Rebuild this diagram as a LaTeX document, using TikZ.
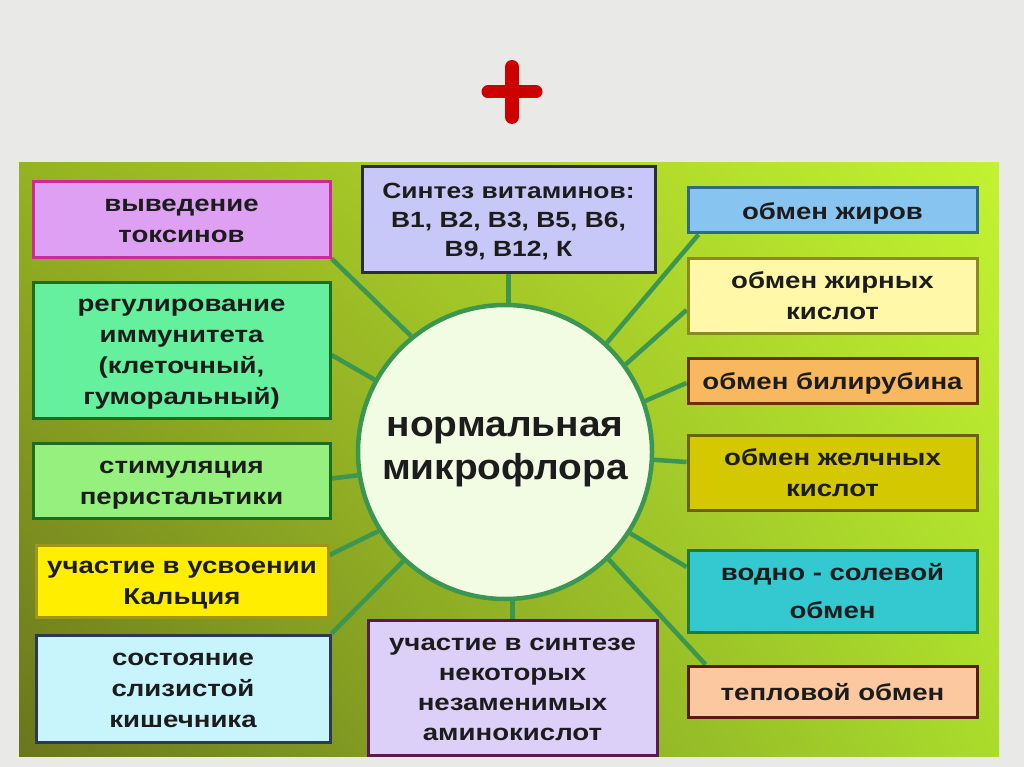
\documentclass[tikz,border=0pt]{standalone}
\usepackage{fontspec}
\setmainfont{Liberation Sans}
\newfontfamily\boxfont[FakeStretch=1.2]{Liberation Sans}
\newfontfamily\circfont[FakeStretch=1.08]{Liberation Sans}
\usetikzlibrary{calc,shadings}
\pgfdeclarelayer{bg}
\pgfsetlayers{bg,main}
\definecolor{pagebg}{RGB}{233,233,231}
\definecolor{pul}{RGB}{150,178,34}
\definecolor{pur}{RGB}{194,242,48}
\definecolor{pll}{RGB}{106,118,28}
\definecolor{plr}{RGB}{170,220,44}
\definecolor{linegreen}{RGB}{58,150,80}
\definecolor{circfill}{RGB}{242,252,226}
\definecolor{txt}{RGB}{28,28,28}
\definecolor{plusred}{RGB}{204,0,0}
\tikzset{
  box/.style={draw, line width=3pt, inner sep=2pt, align=center, text=txt,
    text height=24pt, text depth=6pt,
    font=\boxfont\fontsize{23}{31}\selectfont\bfseries},
  twolines/.style={text height=53pt},
  threelines/.style={text height=84pt},
  fourlines/.style={text height=115pt},
  conn/.style={draw=linegreen, line width=4.5pt},
}
\begin{document}
\begin{tikzpicture}[x=1pt,y=-1pt]
\useasboundingbox (0,0) rectangle (1024,767);
\begin{pgfonlayer}{bg}
\fill[pagebg] (0,0) rectangle (1024,767);
\shade[upper left=pul, upper right=pur, lower left=pll, lower right=plr] (19,163) rectangle (999,756);
\end{pgfonlayer}
% plus
\draw[plusred, line width=13pt, line cap=round] (488,92) -- (536,92);
\draw[plusred, line width=14pt, line cap=round] (512,67) -- (512,117);
% centre
\node[circle, draw=linegreen, fill=circfill, line width=4.5pt, minimum size=294pt, inner sep=0pt,
  align=center, text=txt, font=\circfont\fontsize{36}{43}\selectfont\bfseries] (c) at (505,452) {нормальная\\микрофлора};
% left column
\node[box, twolines, fill={rgb,255:red,222;green,160;blue,242}, draw={rgb,255:red,208;green,40;blue,150},
  minimum width=297pt, minimum height=75pt] (L1) at (181.5,219.5) {выведение\\токсинов};
\node[box, fourlines, fill={rgb,255:red,100;green,240;blue,156}, draw={rgb,255:red,28;green,110;blue,28},
  minimum width=297pt, minimum height=136pt] (L2) at (181.5,350) {регулирование\\иммунитета\\(клеточный,\\гуморальный)};
\node[box, twolines, fill={rgb,255:red,150;green,240;blue,126}, draw={rgb,255:red,28;green,110;blue,28},
  minimum width=297pt, minimum height=75pt] (L3) at (181.5,480.5) {стимуляция\\перистальтики};
\node[box, twolines, fill={rgb,255:red,255;green,238;blue,0}, draw={rgb,255:red,160;green,150;blue,20},
  minimum width=292pt, minimum height=72pt] (L4) at (182,581) {участие в усвоении\\Кальция};
\node[box, threelines, fill={rgb,255:red,200;green,244;blue,252}, draw={rgb,255:red,42;green,58;blue,80},
  minimum width=294pt, minimum height=107pt] (L5) at (183,688.5) {состояние\\слизистой\\кишечника};
% centre boxes
\node[box, text height=80pt, fill={rgb,255:red,200;green,200;blue,248}, draw={rgb,255:red,42;green,42;blue,64},
  minimum width=293pt, minimum height=105pt, font=\boxfont\fontsize{22}{29}\selectfont\bfseries] (T) at (508.5,219.5) {Синтез витаминов:\\B1, B2, B3, B5, B6,\\B9, B12, К};
\node[box, text height=112pt, fill={rgb,255:red,220;green,207;blue,248}, draw={rgb,255:red,90;green,26;blue,80},
  minimum width=289pt, minimum height=135pt, font=\boxfont\fontsize{23}{30}\selectfont\bfseries] (B) at (512.5,687.5) {участие в синтезе\\некоторых\\незаменимых\\аминокислот};
% right column
\node[box, fill={rgb,255:red,136;green,196;blue,240}, draw={rgb,255:red,42;green,106;blue,138},
  minimum width=289pt, minimum height=45pt] (R1) at (832.5,210.5) {обмен жиров};
\node[box, twolines, fill={rgb,255:red,255;green,248;blue,168}, draw={rgb,255:red,138;green,138;blue,32},
  minimum width=289pt, minimum height=75pt] (R2) at (832.5,295.5) {обмен жирных\\кислот};
\node[box, fill={rgb,255:red,248;green,184;blue,96}, draw={rgb,255:red,106;green,48;blue,16},
  minimum width=289pt, minimum height=45pt] (R3) at (832.5,380.5) {обмен билирубина};
\node[box, twolines, fill={rgb,255:red,212;green,200;blue,0}, draw={rgb,255:red,106;green,96;blue,16},
  minimum width=289pt, minimum height=75pt] (R4) at (832.5,472.5) {обмен желчных\\кислот};
\node[box, text height=60pt, fill={rgb,255:red,52;green,200;blue,208}, draw={rgb,255:red,26;green,122;blue,64},
  minimum width=289pt, minimum height=82pt, font=\boxfont\fontsize{23}{38}\selectfont\bfseries] (R5) at (832.5,591) {водно - солевой\\обмен};
\node[box, fill={rgb,255:red,252;green,200;blue,160}, draw={rgb,255:red,90;green,26;blue,16},
  minimum width=289pt, minimum height=51pt] (R6) at (832.5,691.5) {тепловой обмен};
% connectors
\begin{pgfonlayer}{bg}
\draw[conn] (c.129.6) -- (L1.south east);
\draw[conn] (c.151.6) -- ($(L2.east)+(0,5)$);
\draw[conn] (c.189.2) -- ($(L3.east)+(0,-2)$);
\draw[conn] (c.212) -- ($(L4.east)+(0,-26)$);
\draw[conn] (c.227.6) -- (L5.north east);
\draw[conn] (T.south) -- (T.south |- c.north);
\draw[conn] (B.north) -- (B.north |- c.south);
\draw[conn] (c.47.2) -- ($(R1.south west)+(12,0)$);
\draw[conn] (c.36.9) -- ($(R2.west)+(0,14.5)$);
\draw[conn] (c.20.4) -- ($(R3.west)+(0,2.5)$);
\draw[conn] (c.-3.1) -- ($(R4.west)+(0,-10.5)$);
\draw[conn] (c.-33.9) -- ($(R5.west)+(0,-24)$);
\draw[conn] (c.-46.4) -- ($(R6.north west)+(19,0)$);
\end{pgfonlayer}
\end{tikzpicture}
\end{document}
